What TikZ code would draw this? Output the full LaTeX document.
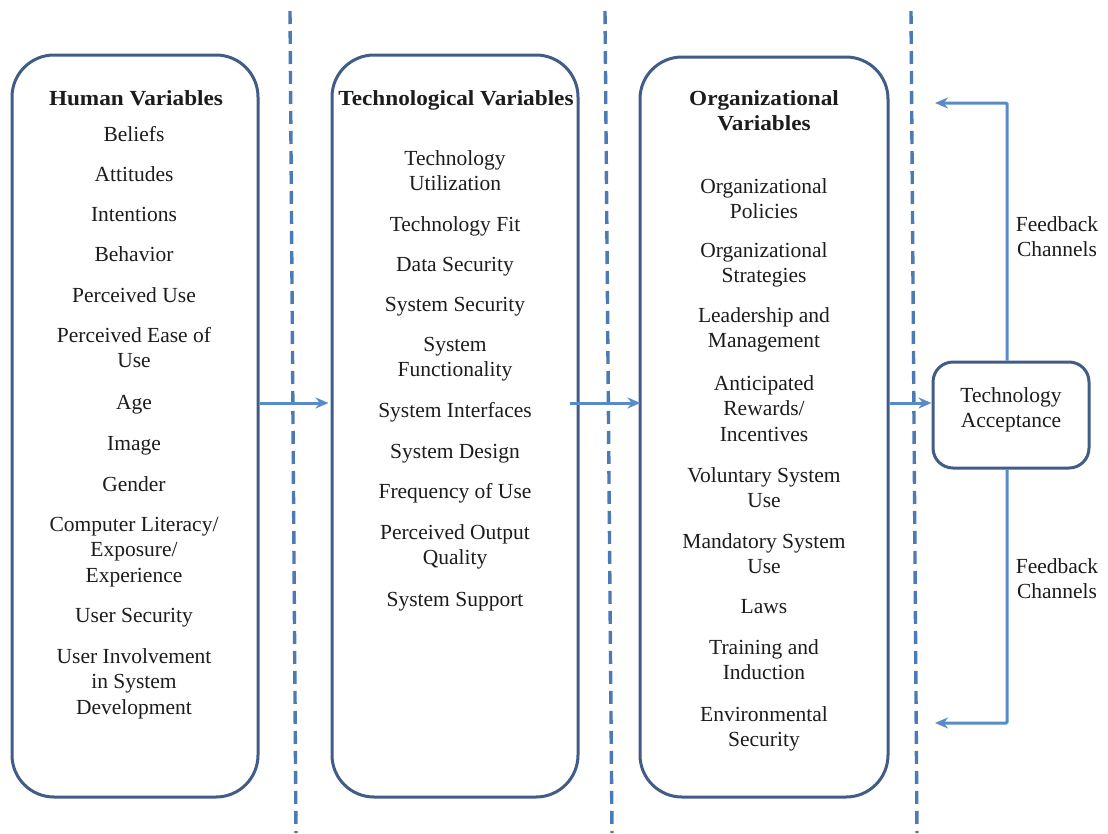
\documentclass[tikz,border=0pt]{standalone}
\usepackage{fontspec}
\usepackage{graphicx}
\setmainfont{Liberation Serif}
\usetikzlibrary{arrows.meta}

\definecolor{boxline}{RGB}{66,92,136}
\definecolor{sepline}{RGB}{76,122,180}
\definecolor{arrowcol}{RGB}{88,140,200}
\definecolor{inkcol}{RGB}{28,28,28}

% one entry in a column: name, x, centre of first line, text
\newcommand\varentry[4]{\node[entry] (#1) at (#2,#3-10.85) {\strut #4};}

\begin{document}
\begin{tikzpicture}[x=1pt,y=-1pt,
  entry/.style={anchor=north, align=center, inner sep=0pt, text=inkcol,
    font=\fontsize{21.5}{25.5}\selectfont},
  column/.style={draw=boxline, line width=3pt, rounded corners=42pt},
  accbox/.style={draw=boxline, line width=3pt, rounded corners=20pt, fill=white},
  sep/.style={draw=sepline, line width=3.4pt, dash pattern=on 13pt off 7pt},
  arr/.style={draw=arrowcol, line width=3pt, -{Stealth[length=13pt,width=11pt]}}
]
\useasboundingbox (0,0) rectangle (1108,833);
\fill[white] (0,0) rectangle (1108,833);

% dashed separators
\coordinate (s1a) at (290,11);  \coordinate (s1b) at (296,833);
\coordinate (s2a) at (605,11);  \coordinate (s2b) at (612,833);
\coordinate (s3a) at (911,11);  \coordinate (s3b) at (917,833);
\draw[sep] (s1a) -- (s1b);
\draw[sep] (s2a) -- (s2b);
\draw[sep] (s3a) -- (s3b);

% the three columns
\node[column, minimum width=246pt, minimum height=742pt] (human) at (135,426) {};
\node[column, minimum width=246pt, minimum height=742pt] (tech)  at (455,426) {};
\node[column, minimum width=248pt, minimum height=740pt] (org)   at (764,427) {};

% technology acceptance
\node[accbox, minimum width=156pt, minimum height=106pt] (acc) at (1011,415) {};
\node[entry, anchor=center] (acctext) at (1011,410) {Technology\\Acceptance};

% human variables
\varentry{h0}{136}{98}{\scalebox{1.08}[1]{\bfseries Human Variables}}
\varentry{h1}{134}{134}{Beliefs}
\varentry{h2}{134}{174}{Attitudes}
\varentry{h3}{134}{214}{Intentions}
\varentry{h4}{134}{254}{Behavior}
\varentry{h5}{134}{295}{Perceived Use}
\varentry{h6}{134}{335}{Perceived Ease of\\Use}
\varentry{h7}{134}{402}{Age}
\varentry{h8}{134}{443}{Image}
\varentry{h9}{134}{484}{Gender}
\varentry{h10}{134}{524}{Computer Literacy/\\Exposure/\\Experience}
\varentry{h11}{134}{615}{User Security}
\varentry{h12}{134}{656}{User Involvement\\in System\\Development}

% technological variables
\varentry{t0}{456}{98}{\scalebox{1.08}[1]{\bfseries Technological Variables}}
\varentry{t1}{455}{158}{Technology\\Utilization}
\varentry{t2}{455}{224}{Technology Fit}
\varentry{t3}{455}{264}{Data Security}
\varentry{t4}{455}{304}{System Security}
\varentry{t5}{455}{344}{System\\Functionality}
\varentry{t6}{455}{410}{System Interfaces}
\varentry{t7}{455}{451}{System Design}
\varentry{t8}{455}{491}{Frequency of Use}
\varentry{t9}{455}{532}{Perceived Output\\Quality}
\varentry{t10}{455}{599}{System Support}

% organizational variables
\varentry{o0}{764}{98}{\scalebox{1.08}[1]{\bfseries Organizational}\\\scalebox{1.08}[1]{\bfseries Variables}}
\varentry{o1}{764}{186}{Organizational\\Policies}
\varentry{o2}{764}{250}{Organizational\\Strategies}
\varentry{o3}{764}{315}{Leadership and\\Management}
\varentry{o4}{764}{383}{Anticipated\\Rewards/\\Incentives}
\varentry{o5}{764}{475}{Voluntary System\\Use}
\varentry{o6}{764}{541}{Mandatory System\\Use}
\varentry{o7}{764}{606}{Laws}
\varentry{o8}{764}{647}{Training and\\Induction}
\varentry{o9}{764}{714}{Environmental\\Security}

% feedback labels
\varentry{fbl1}{1057}{224}{Feedback\\Channels}
\varentry{fbl2}{1057}{566}{Feedback\\Channels}

% flow between the columns
\coordinate (flow) at (0,403);
\draw[arr] (human.east |- flow) -- ([xshift=-2pt]tech.west |- flow);
\draw[arr] ([xshift=-10pt]tech.east |- flow) -- ([xshift=2pt]org.west |- flow);
\draw[arr] (org.east |- flow) -- (acc.west |- flow);

% feedback channels
\coordinate (fbx) at (1007,0);
\coordinate (fbtop) at (935,103);
\coordinate (fbbot) at (935,723);
\draw[arr, rounded corners=1pt] (acc.north -| fbx) |- (fbtop);
\draw[arr, rounded corners=1pt] (acc.south -| fbx) |- (fbbot);
\end{tikzpicture}
\end{document}
